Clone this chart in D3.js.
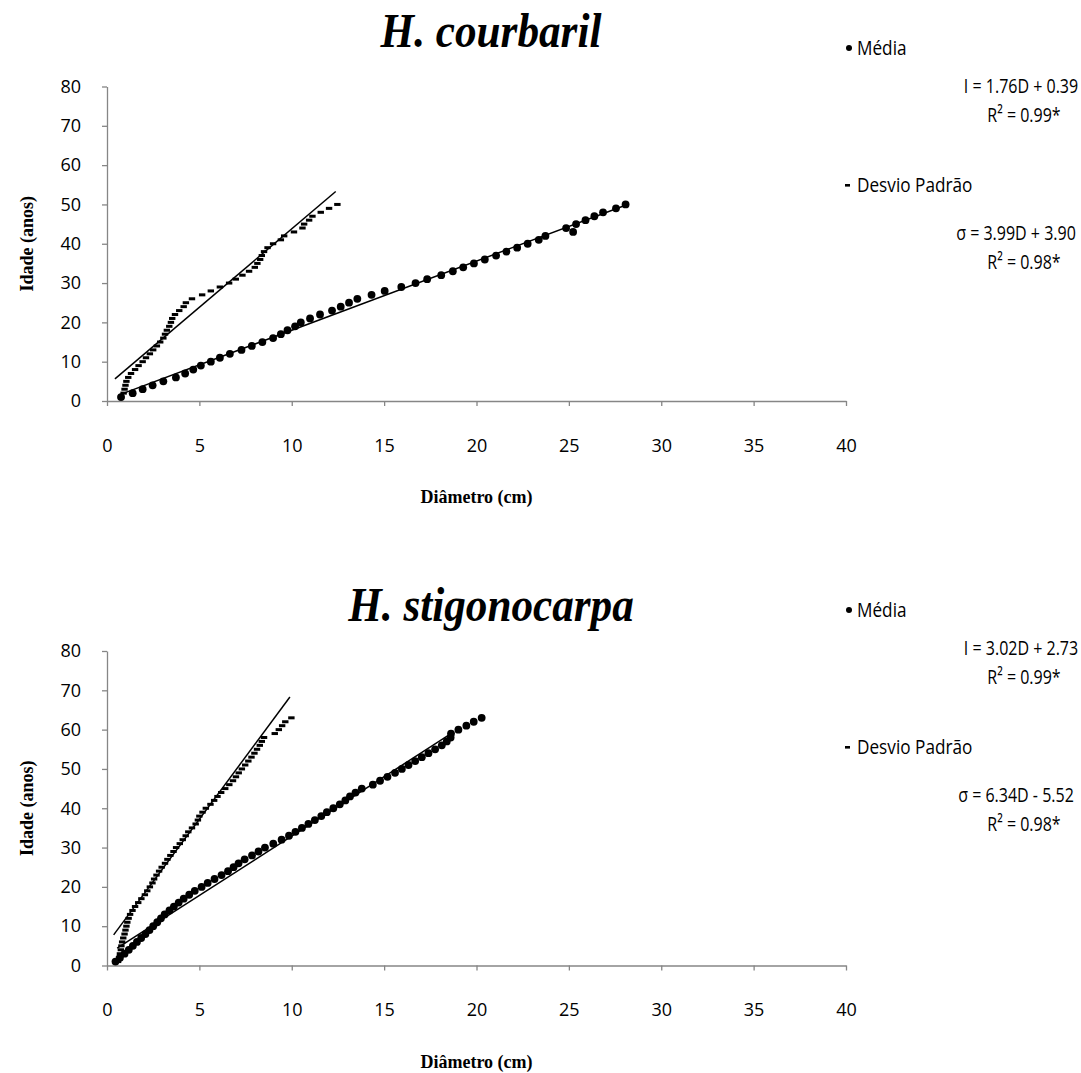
<!DOCTYPE html>
<html>
<head>
<meta charset="utf-8">
<script src="https://cdn.jsdelivr.net/npm/d3@7"></script>
<style>
  body { margin: 0; background: #fff; }
  svg text { fill: #000; }
</style>
</head>
<body>
<svg id="chart" width="1081" height="1073"></svg>
<script>
// ---- H. courbaril: age (years) against mean diameter and standard deviation (cm)
const courbarilAge = [1,2,3,4,5,6,7,8,9,10,11,12,13,14,15,16,17,18,19,20,21,22,23,24,25,
  26,27,28,29,30,31,32,33,34,35,36,37,38,39,40,41,42,43,44,45,46,47,48,49,50];
const courbarilMean = [0.76,1.39,1.93,2.47,3.05,3.73,4.23,4.67,5.08,5.62,6.11,6.65,7.28,7.84,8.41,
  8.99,9.41,9.77,10.18,10.49,10.99,11.53,12.18,12.65,13.10,13.55,14.32,15.03,15.93,16.70,
  17.33,18.09,18.72,19.28,19.86,20.45,21.06,21.62,22.20,22.77,23.37,23.73,25.23,24.85,25.39,
  25.90,26.38,26.85,27.55,28.07];
const courbarilSd = [0.76,0.90,0.95,1.00,1.05,1.15,1.30,1.52,1.71,1.93,2.11,2.32,2.50,2.70,2.88,
  3.05,3.14,3.24,3.37,3.46,3.53,3.68,3.91,4.15,4.27,4.60,5.15,5.62,6.11,6.61,
  6.97,7.33,7.69,8.00,8.14,8.29,8.38,8.50,8.69,8.99,9.41,9.59,10.12,10.58,10.67,
  10.94,11.12,11.57,12.02,12.47];

// ---- H. stigonocarpa
const stigonocarpaAge = [1,2,3,4,5,6,7,8,9,10,11,12,13,14,15,16,17,18,19,20,21,22,23,24,25,
  26,27,28,29,30,31,32,33,34,35,36,37,38,39,40,41,42,43,44,45,46,47,48,49,50,
  51,52,53,54,55,56,57,58,59,60,61,62,63];
const stigonocarpaMean = [0.46,0.70,0.95,1.18,1.40,1.62,1.85,2.08,2.30,2.50,2.72,2.92,3.12,3.38,3.62,
  3.88,4.15,4.45,4.75,5.12,5.45,5.82,6.20,6.55,6.85,7.12,7.45,7.85,8.20,8.55,
  9.00,9.45,9.85,10.20,10.55,10.90,11.25,11.60,11.90,12.25,12.60,12.90,13.15,13.45,13.79,
  14.39,14.78,15.18,15.59,15.96,16.32,16.68,17.04,17.40,17.76,18.12,18.39,18.60,18.62,19.02,
  19.45,19.85,20.28];
const stigonocarpaSd = [0.60,0.65,0.70,0.75,0.78,0.82,0.88,0.95,1.00,1.05,1.10,1.17,1.25,1.38,1.52,
  1.69,1.86,2.05,2.18,2.32,2.46,2.55,2.68,2.82,2.96,3.14,3.27,3.43,3.60,3.74,
  3.94,4.10,4.26,4.40,4.60,4.80,4.92,5.00,5.17,5.35,5.60,5.80,5.98,6.18,6.40,
  6.62,6.82,6.98,7.13,7.30,7.48,7.65,7.82,7.98,8.12,8.27,8.38,8.50,9.08,9.30,
  9.48,9.65,9.98];

// Fitted lines: [slope, intercept, first D, last D]
const courbarilMeanFit = [1.76, 0.39, 0.70, 28.1];
const courbarilSdFit   = [3.99, 3.90, 0.43, 12.38];
const stigonocarpaMeanFit = [3.02, 2.73, 0.55, 18.6];
const stigonocarpaSdFit   = [6.34, 5.52, 0.36, 9.9];

// Legend texts
const courbarilLegend = ["Média", "I = 1.76D + 0.39", "R² = 0.99*", "Desvio Padrão", "σ = 3.99D + 3.90", "R² = 0.98*"];
const stigonocarpaLegend = ["Média", "I = 3.02D + 2.73", "R² = 0.99*", "Desvio Padrão", "σ = 6.34D - 5.52", "R² = 0.98*"];

// Axis ticks
const xTicks = [0,5,10,15,20,25,30,35,40];
const yTicks = [0,10,20,30,40,50,60,70,80];

const panels = [
  { title: "H. courbaril", age: courbarilAge, mean: courbarilMean, sd: courbarilSd,
    meanFit: courbarilMeanFit, sdFit: courbarilSdFit, legend: courbarilLegend,
    top: 86.5, bottom: 401, titleY: 47, legendY: 48 },
  { title: "H. stigonocarpa", age: stigonocarpaAge, mean: stigonocarpaMean, sd: stigonocarpaSd,
    meanFit: stigonocarpaMeanFit, sdFit: stigonocarpaSdFit, legend: stigonocarpaLegend,
    top: 651, bottom: 965.5, titleY: 621, legendY: 610 }
];

const svg = d3.select("#chart");
const left = 107, right = 846;
const axisColor = "#868686";
const sansFont = "'Open Sans', 'Noto Sans', sans-serif";
const serifFont = "'Liberation Serif', 'DejaVu Serif', serif";

// Horizontally condensed text, used for the narrow legend lettering
function condensedText(parent, x, y, str, anchor, sx) {
  return parent.append("text")
    .attr("transform", `translate(${x},${y}) scale(${sx},1)`)
    .attr("dy", "0.35em")
    .attr("text-anchor", anchor)
    .text(str);
}

panels.forEach(p => {
  const g = svg.append("g");
  const x = d3.scaleLinear().domain([0, 40]).range([left, right]);
  const y = d3.scaleLinear().domain([0, 80]).range([p.bottom, p.top]);

  // Axes
  const xAxis = g.append("g")
    .attr("transform", `translate(0,${p.bottom})`)
    .call(d3.axisBottom(x).tickValues(xTicks).tickSize(5).tickPadding(33).tickSizeOuter(0));
  const yAxis = g.append("g")
    .attr("transform", `translate(${left},0)`)
    .call(d3.axisLeft(y).tickValues(yTicks).tickSize(5).tickPadding(21).tickSizeOuter(0));
  [xAxis, yAxis].forEach(a => {
    a.selectAll("path, line").attr("stroke", axisColor).attr("stroke-width", 1.3);
    a.selectAll("text").attr("fill", "#000").style("font-family", sansFont).style("font-size", "18px");
  });

  // Trend lines
  [p.meanFit, p.sdFit].forEach(f => {
    const [m, b, d0, d1] = f;
    g.append("line")
      .attr("x1", x(d0)).attr("y1", y(m * d0 + b))
      .attr("x2", x(d1)).attr("y2", y(m * d1 + b))
      .attr("stroke", "#000").attr("stroke-width", 1.5);
  });

  // Standard deviation markers (short dashes)
  g.append("g").selectAll("rect")
    .data(p.age.map((a, i) => ({ d: p.sd[i], a })))
    .join("rect")
    .attr("x", d => x(d.d) - 3.2).attr("y", d => y(d.a) - 1.5)
    .attr("width", 6.4).attr("height", 3)
    .attr("fill", "#000");

  // Mean markers (dots)
  g.append("g").selectAll("circle")
    .data(p.age.map((a, i) => ({ d: p.mean[i], a })))
    .join("circle")
    .attr("cx", d => x(d.d)).attr("cy", d => y(d.a))
    .attr("r", 3.9)
    .attr("fill", "#000");

  // Title
  g.append("text")
    .attr("transform", `translate(491,${p.titleY}) scale(0.9,1)`)
    .attr("text-anchor", "middle")
    .style("font-family", serifFont).style("font-weight", "bold").style("font-style", "italic")
    .style("font-size", "48px")
    .text(p.title);

  // Axis titles
  g.append("text")
    .attr("x", (left + right) / 2).attr("y", p.bottom + 102)
    .attr("text-anchor", "middle")
    .style("font-family", serifFont).style("font-weight", "bold").style("font-size", "18px")
    .text("Diâmetro (cm)");
  g.append("text")
    .attr("transform", `translate(33,${(p.top + p.bottom) / 2}) rotate(-90)`)
    .attr("text-anchor", "middle")
    .style("font-family", serifFont).style("font-weight", "bold").style("font-size", "18px")
    .text("Idade (anos)");

  // Legend
  const L = p.legendY;
  const lg = g.append("g").style("font-family", sansFont).style("font-size", "20px");
  lg.append("circle").attr("cx", 849).attr("cy", L).attr("r", 3).attr("fill", "#000");
  condensedText(lg, 857, L, p.legend[0], "start", 0.86);
  condensedText(lg, 1021, L + 38, p.legend[1], "middle", 0.8);
  condensedText(lg, 1024, L + 67, p.legend[2], "middle", 0.8);
  lg.append("rect").attr("x", 845).attr("y", L + 136).attr("width", 5).attr("height", 2.6).attr("fill", "#000");
  condensedText(lg, 857, L + 137, p.legend[3], "start", 0.86);
  condensedText(lg, 1016, L + 185, p.legend[4], "middle", 0.8);
  condensedText(lg, 1024, L + 214, p.legend[5], "middle", 0.8);
});
</script>
</body>
</html>
